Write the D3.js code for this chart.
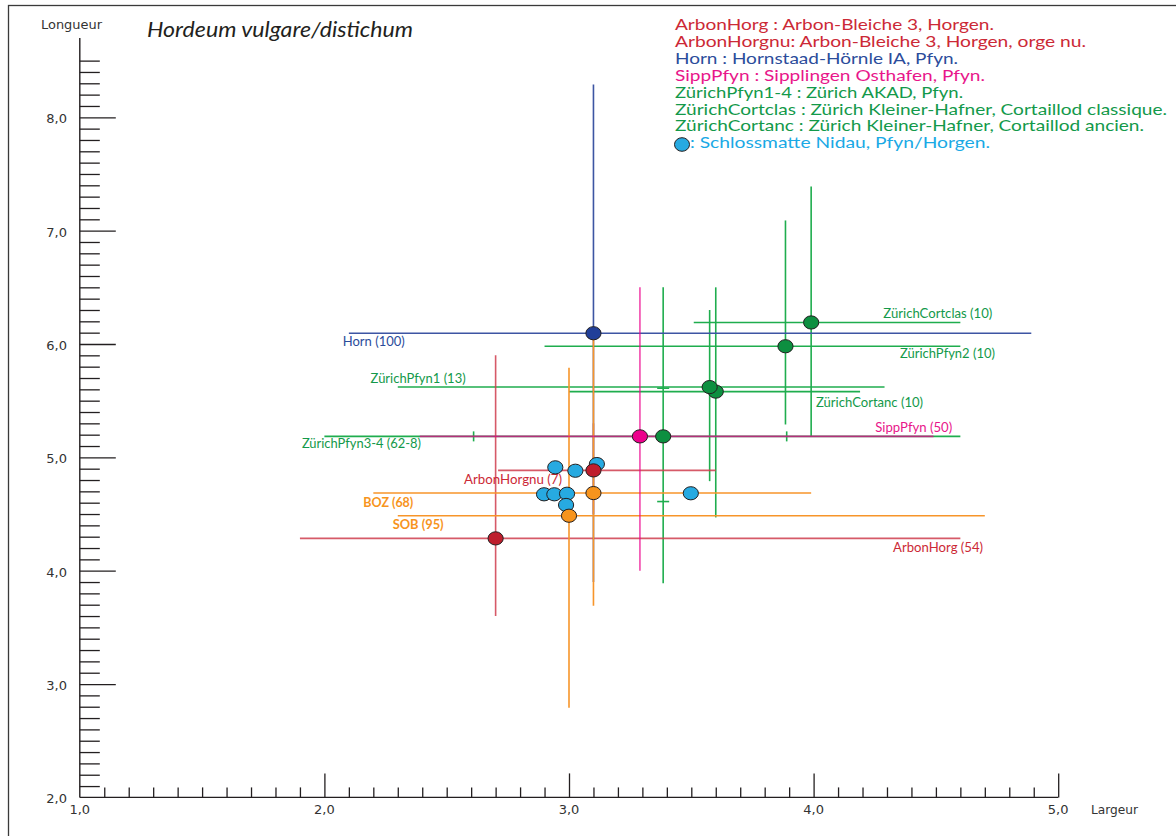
<!DOCTYPE html>
<html>
<head>
<meta charset="utf-8">
<script src="https://cdn.jsdelivr.net/npm/d3@7"></script>
<style>
  html, body { margin: 0; padding: 0; background: #fff; }
  svg { display: block; }
</style>
</head>
<body>
<svg id="chart" width="1176" height="836"></svg>
<script>
// ---------------- DATA ----------------
const seriesNames  = ["ArbonHorg","ArbonHorgnu","Horn","SippPfyn","ZürichCortanc","ZürichPfyn1","ZürichPfyn2","ZürichPfyn3-4","ZürichCortclas","BOZ","SOB"];
const seriesGroup  = ["red","red","blue","magenta","green","green","green","green","green","orange","orange"];
const meanLargeur  = [2.70, 3.10, 3.10, 3.29, 3.60, 3.575, 3.885, 3.385, 3.99, 3.10, 3.00];
const meanLongueur = [4.285, 4.885, 6.095, 5.185, 5.58, 5.62, 5.98, 5.185, 6.19, 4.685, 4.485];
const minLargeur   = [1.90, 2.71, 2.10, 2.39, 3.00, 2.30, 2.90, 2.00, 3.51, 2.20, 2.30];
const maxLargeur   = [4.60, 3.60, 4.89, 4.49, 4.19, 4.29, 4.60, 4.60, 4.60, 3.99, 4.70];
const minLongueur  = [3.60, 4.50, 3.90, 4.00, 4.47, 4.79, 5.29, 3.89, 5.18, 3.69, 2.79];
const maxLongueur  = [5.90, 5.30, 8.29, 6.50, 6.50, 6.30, 7.09, 6.50, 7.39, 6.10, 5.79];

// small inner marks (ZürichPfyn3-4 only)
const innerMarkSeries   = "ZürichPfyn3-4";
const innerMarksLargeur = [2.61, 3.89];
const innerMarksLongueur = [5.61, 4.61];

// series labels (text, anchor in data units: largeur of text start, longueur of baseline)
const labelTexts    = ["ArbonHorg (54)","ArbonHorgnu (7)","Horn (100)","SippPfyn (50)","ZürichCortanc (10)","ZürichPfyn1 (13)","ZürichPfyn2 (10)","ZürichPfyn3-4 (62-8)","ZürichCortclas (10)","BOZ (68)","SOB (95)"];
const labelLargeur  = [4.325, 2.571, 2.075, 4.252, 4.010, 2.189, 4.353, 1.908, 4.285, 2.159, 2.279];
const labelLongueur = [4.165, 4.762, 5.982, 5.226, 5.442, 5.659, 5.874, 5.085, 6.227, 4.565, 4.365];

// Schlossmatte Nidau points
const nidauLargeur  = [2.944, 3.026, 3.114, 2.898, 2.940, 2.992, 2.988, 3.498];
const nidauLongueur = [4.912, 4.882, 4.941, 4.674, 4.674, 4.679, 4.580, 4.683];

// legend
const legendTexts = [
  "ArbonHorg : Arbon-Bleiche 3, Horgen.",
  "ArbonHorgnu: Arbon-Bleiche 3, Horgen, orge nu.",
  "Horn : Hornstaad-Hörnle IA, Pfyn.",
  "SippPfyn : Sipplingen Osthafen, Pfyn.",
  "ZürichPfyn1-4 : Zürich AKAD, Pfyn.",
  "ZürichCortclas : Zürich Kleiner-Hafner, Cortaillod classique.",
  "ZürichCortanc : Zürich Kleiner-Hafner, Cortaillod ancien."
];
const legendGroups = ["red","red","blue","magenta","green","green","green"];
const nidauLegendText = ": Schlossmatte Nidau, Pfyn/Horgen.";

const titleText = "Hordeum vulgare/distichum";
const xAxisTitle = "Largeur";
const yAxisTitle = "Longueur";
const xMajorTicks = [1, 2, 3, 4, 5];
const yMajorTicks = [2, 3, 4, 5, 6, 7, 8];

// ---------------- STYLES ----------------
const lineColor  = { red: "#cf3d4d", blue: "#3d55a3", magenta: "#ec008c", green: "#1fad4e", orange: "#f7952a" };
const lineOpacity = { red: 0.85, blue: 1, magenta: 0.72, green: 1, orange: 1 };
const pointColor = { red: "#be1e2d", blue: "#213f99", magenta: "#ec008c", green: "#0d8f40", orange: "#f7941d", nidau: "#27aae1" };
const textColor  = { red: "#cc2936", blue: "#2b4c9b", magenta: "#e8168a", green: "#13994a", orange: "#f7941d", nidau: "#1aa9e5" };
const layerOrder = { green: 0, red: 1, blue: 2, orange: 3, magenta: 4 };
const labelWidths = [90, 98, 62, 77, 107, 95, 95, 119, 109, 50, 51];
const legendWidths = [319, 411, 283, 310, 288, 492, 469];

// ---------------- CHART ----------------
const svg = d3.select("#chart");
const x = d3.scaleLinear().domain([1, 5]).range([79.8, 1058.2]);
const y = d3.scaleLinear().domain([2, 8]).range([797.4, 117.3]);
const fmt = v => d3.format(".1f")(v).replace(".", ",");
const axisFont = "'DejaVu Sans', Verdana, sans-serif";
const mainFont = "Lato, 'Open Sans', sans-serif";

// frame
svg.append("rect").attr("x", 8.5).attr("y", 5.5).attr("width", 1300).attr("height", 1000)
  .attr("fill", "none").attr("stroke", "#3a3a3a").attr("stroke-width", 1.3);

// Y axis
const yMinor = d3.range(21, 86).map(v => v / 10).filter(v => Math.abs(v - Math.round(v)) > 1e-6);
const yAxisMinor = d3.axisRight(y).tickValues(yMinor).tickSize(20).tickFormat("");
const yAxisMajor = d3.axisRight(y).tickValues(yMajorTicks.filter(v => v > 2)).tickSize(36).tickFormat("");
const gY = svg.append("g").attr("transform", `translate(${x(1)},0)`);
gY.append("g").call(yAxisMinor).call(g => g.select(".domain").remove());
gY.append("g").call(yAxisMajor).call(g => g.select(".domain").remove());
gY.selectAll("line").attr("stroke", "#231f20").attr("stroke-width", 1.3);
svg.append("line").attr("x1", x(1)).attr("x2", x(1)).attr("y1", y(2)).attr("y2", y(8.7))
  .attr("stroke", "#231f20").attr("stroke-width", 1.4);
svg.append("g").selectAll("text").data(yMajorTicks).join("text")
  .attr("x", 67).attr("y", d => y(d) + 6)
  .attr("text-anchor", "end").attr("font-family", axisFont).attr("font-size", 13).attr("fill", "#333")
  .text(fmt);

// X axis
const xMinor = d3.range(11, 50).map(v => v / 10).filter(v => Math.abs(v - Math.round(v)) > 1e-6);
const xAxisMinor = d3.axisTop(x).tickValues(xMinor).tickSize(10).tickFormat("");
const xAxisMajor = d3.axisTop(x).tickValues(xMajorTicks.filter(v => v > 1)).tickSize(24).tickFormat("");
const gX = svg.append("g").attr("transform", `translate(0,${y(2)})`);
gX.append("g").call(xAxisMinor).call(g => g.select(".domain").remove());
gX.append("g").call(xAxisMajor).call(g => g.select(".domain").remove());
gX.selectAll("line").attr("stroke", "#231f20").attr("stroke-width", 1.3);
svg.append("line").attr("x1", x(1)).attr("x2", x(5)).attr("y1", y(2)).attr("y2", y(2))
  .attr("stroke", "#231f20").attr("stroke-width", 1.4);
svg.append("g").selectAll("text").data(xMajorTicks).join("text")
  .attr("x", d => x(d)).attr("y", 814)
  .attr("text-anchor", "middle").attr("font-family", axisFont).attr("font-size", 13).attr("fill", "#333")
  .text(fmt);

// axis titles & title
svg.append("text").attr("x", 41).attr("y", 29).attr("font-family", axisFont).attr("font-size", 12.5)
  .attr("fill", "#333").attr("textLength", 61).attr("lengthAdjust", "spacingAndGlyphs").text(yAxisTitle);
svg.append("text").attr("x", 1091).attr("y", 814).attr("font-family", axisFont).attr("font-size", 12)
  .attr("fill", "#333").attr("textLength", 47).attr("lengthAdjust", "spacingAndGlyphs").text(xAxisTitle);
svg.append("text").attr("x", 147).attr("y", 37).attr("font-family", mainFont).attr("font-style", "italic")
  .attr("font-size", 20.5).attr("fill", "#231f20").attr("textLength", 266).attr("lengthAdjust", "spacingAndGlyphs")
  .text(titleText);

// error bars
const series = seriesNames.map((n, i) => ({
  name: n, group: seriesGroup[i], mx: meanLargeur[i], my: meanLongueur[i],
  x0: minLargeur[i], x1: maxLargeur[i], y0: minLongueur[i], y1: maxLongueur[i], idx: i
}));
const lineOrder = series.slice().sort((a, b) => layerOrder[a.group] - layerOrder[b.group] || a.idx - b.idx);
const gBars = svg.append("g").attr("stroke-width", 1.6).attr("fill", "none");
lineOrder.forEach(s => {
  const g = gBars.append("g").attr("stroke", lineColor[s.group]).attr("stroke-opacity", lineOpacity[s.group]);
  g.append("line").attr("x1", x(s.mx)).attr("x2", x(s.mx)).attr("y1", y(s.y1)).attr("y2", y(s.y0));
  g.append("line").attr("x1", x(s.x0)).attr("x2", x(s.x1)).attr("y1", y(s.my)).attr("y2", y(s.my));
  if (s.name === innerMarkSeries) {
    innerMarksLargeur.forEach(v => g.append("line").attr("x1", x(v)).attr("x2", x(v))
      .attr("y1", y(s.my) - 5).attr("y2", y(s.my) + 5));
    innerMarksLongueur.forEach(v => g.append("line").attr("x1", x(s.mx) - 6).attr("x2", x(s.mx) + 6)
      .attr("y1", y(v)).attr("y2", y(v)));
  }
});

// series labels
svg.append("g").selectAll("text").data(labelTexts).join("text")
  .attr("x", (d, i) => x(labelLargeur[i])).attr("y", (d, i) => y(labelLongueur[i]))
  .attr("font-family", mainFont).attr("font-size", 12.5)
  .attr("font-weight", (d, i) => seriesGroup[i] === "orange" ? "bold" : "normal")
  .attr("fill", (d, i) => textColor[seriesGroup[i]])
  .attr("textLength", (d, i) => labelWidths[i]).attr("lengthAdjust", "spacingAndGlyphs")
  .text(d => d);

// Nidau points
svg.append("g").selectAll("ellipse").data(nidauLargeur).join("ellipse")
  .attr("cx", d => x(d)).attr("cy", (d, i) => y(nidauLongueur[i]))
  .attr("rx", 7.6).attr("ry", 6.6)
  .attr("fill", pointColor.nidau).attr("stroke", "#231f20").attr("stroke-width", 1);

// series points
svg.append("g").selectAll("ellipse").data(series).join("ellipse")
  .attr("cx", d => x(d.mx)).attr("cy", d => y(d.my))
  .attr("rx", 7.6).attr("ry", 6.6)
  .attr("fill", d => pointColor[d.group]).attr("stroke", "#231f20").attr("stroke-width", 1);

// legend
const gLeg = svg.append("g").attr("font-family", mainFont).attr("font-size", 15);
gLeg.selectAll("text.leg").data(legendTexts).join("text").attr("class", "leg")
  .attr("x", 675).attr("y", (d, i) => 30 + i * 16.9)
  .attr("fill", (d, i) => textColor[legendGroups[i]])
  .attr("textLength", (d, i) => legendWidths[i]).attr("lengthAdjust", "spacingAndGlyphs")
  .text(d => d);
gLeg.append("ellipse").attr("cx", 682).attr("cy", 144.5).attr("rx", 7.5).attr("ry", 6.8)
  .attr("fill", pointColor.nidau).attr("stroke", "#231f20").attr("stroke-width", 1);
gLeg.append("text").attr("x", 690).attr("y", 30 + 7 * 16.9)
  .attr("fill", textColor.nidau).attr("textLength", 300).attr("lengthAdjust", "spacingAndGlyphs")
  .text(nidauLegendText);
</script>
</body>
</html>
